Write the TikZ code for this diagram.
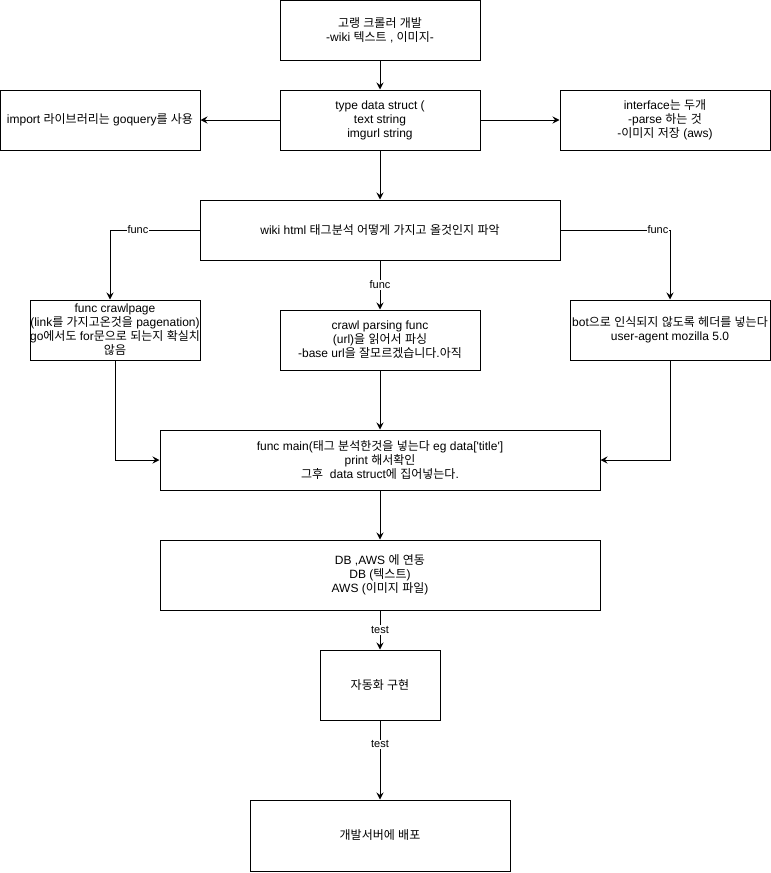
\documentclass[tikz,border=0pt]{standalone}
\usepackage{fontspec}
\setmainfont{Liberation Sans}
\newfontfamily\krfont{Noto Sans CJK KR}
\usetikzlibrary{arrows.meta}

% Hangul syllables are set in the CJK face, everything else in Liberation Sans
\XeTeXinterchartokenstate=1
\chardef\hangulclass=10
\count255="AC00
\loop
  \XeTeXcharclass\count255=\hangulclass\relax
  \ifnum\count255<"D7A3 \advance\count255 by 1 \repeat
\XeTeXinterchartoks 0 \hangulclass = {\krfont}
\XeTeXinterchartoks 4095 \hangulclass = {\krfont}
\XeTeXinterchartoks \hangulclass 0 = {\rmfamily}
\XeTeXinterchartoks \hangulclass 4095 = {\rmfamily}

\begin{document}
\begin{tikzpicture}[x=1pt, y=-1pt, line width=1pt,
    >={Stealth[length=7pt, width=7pt, inset=2.5pt]},
    font=\fontsize{12}{14}\selectfont,
    box/.style={draw, align=center, inner sep=0pt},
    lbl/.style={fill=white, inner sep=1pt, font=\fontsize{11}{13}\selectfont}]
  \useasboundingbox (0,0) rectangle (771,873);
  % top: the goal, the data struct and its two side notes
  \node[box, minimum width=200, minimum height=60] (goal) at (380,30)
    {고랭 크롤러 개발\\-wiki 텍스트 , 이미지-};
  \node[box, minimum width=200, minimum height=60] (dstruct) at (380,120)
    {type data struct (\\text string\\imgurl string};
  \node[box, minimum width=200, minimum height=60] (lib) at (100,120)
    {import 라이브러리는 goquery를 사용};
  \node[box, minimum width=210, minimum height=60] (iface) at (665,120)
    {interface는 두개\\-parse 하는 것\\-이미지 저장 (aws)};
  \draw[->] (goal) -- (dstruct);
  \draw[->] (dstruct) -- (lib);
  \draw[->] (dstruct) -- (iface);
  % middle: tag analysis splits into three funcs
  \node[box, minimum width=360, minimum height=60] (wiki) at (380,230)
    {wiki html 태그분석 어떻게 가지고 올것인지 파악};
  \node[box, minimum width=170, minimum height=60] (crawl) at (115,330)
    {func crawlpage\\(link를 가지고온것을 pagenation)\\go에서도 for문으로 되는지 확실치\\않음};
  \node[box, minimum width=200, minimum height=60] (parse) at (380,340)
    {crawl parsing func\\(url)을 읽어서 파싱\\-base url을 잘모르겠습니다.아직};
  \node[box, minimum width=200, minimum height=60] (bot) at (670,330)
    {bot으로 인식되지 않도록 헤더를 넣는다\\user-agent mozilla 5.0};
  \draw[->] (dstruct) -- (wiki);
  \draw[->] (wiki.west) -| ([xshift=-5pt]crawl.north) node[lbl, pos=0.344] {func};
  \draw[->] (wiki) -- (parse) node[lbl, midway] {func};
  \draw[->] (wiki.east) -| (bot.north) node[lbl, pos=0.445] {func};
  % bottom: main, storage, automation, deploy
  \node[box, minimum width=440, minimum height=60] (main) at (380,460)
    {func main(태그 분석한것을 넣는다 eg data[\textquotesingle title\textquotesingle]\\print 해서확인\\그후\ \ data struct에 집어넣는다.};
  \node[box, minimum width=440, minimum height=70] (store) at (380,575)
    {DB ,AWS 에 연동\\DB (텍스트)\\AWS (이미지 파일)};
  \node[box, minimum width=120, minimum height=70] (auto) at (380,685) {자동화 구현};
  \node[box, minimum width=260, minimum height=71] (deploy) at (380,835.5) {개발서버에 배포};
  \draw[->] (crawl.south) |- (main.west);
  \draw[->] (parse) -- (main);
  \draw[->] (bot.south) |- (main.east);
  \draw[->] (main) -- (store);
  \draw[->] (store) -- (auto) node[lbl, midway] {test};
  \draw[->] (auto) -- (deploy) node[lbl, pos=0.3] {test};
\end{tikzpicture}
\end{document}
